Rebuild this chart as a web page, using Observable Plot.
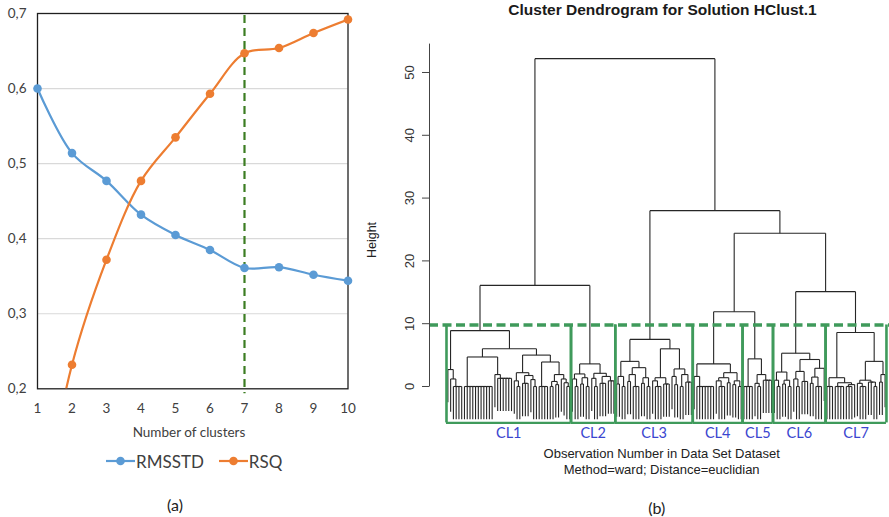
<!DOCTYPE html>
<html><head><meta charset="utf-8">
<script src="https://cdn.jsdelivr.net/npm/d3@7"></script>
<script src="https://cdn.jsdelivr.net/npm/@observablehq/plot@0.6"></script>
<style>
body{margin:0;background:#fff;}
#page{position:relative;width:889px;height:517px;overflow:hidden;background:#fff;}
.t{position:absolute;white-space:nowrap;transform:translate(-50%,-50%);line-height:1;}
</style></head><body><div id="page"></div>
<script>
// ---------- Panel (a) data ----------
const clusters = [1, 2, 3, 4, 5, 6, 7, 8, 9, 10];
const rmsstd   = [0.600, 0.514, 0.477, 0.432, 0.405, 0.385, 0.361, 0.362, 0.352, 0.344];
const rsq      = [0.000, 0.232, 0.372, 0.477, 0.535, 0.593, 0.647, 0.654, 0.674, 0.692];
const seriesNames = ["RMSSTD", "RSQ"];
const seriesColors = ["#5b9bd5", "#ed7d31"];
const yTicksA = [0.2, 0.3, 0.4, 0.5, 0.6, 0.7];
const gridA = [0.3, 0.4, 0.5, 0.6];
const chosenK = 7;

// ---------- Panel (b) data: dendrogram merge heights ([height, ...children], leaf = 0) ----------
const cl1 = [8.9,
  [2.7, 0, [1.2, 0, [0, 0, 0, 0, 0]]],
  [6.0,
    [4.7, [0, 0, 0, 0, 0, 0, 0, 0, 0, 0, 0, 0], [1.9, 0, [1.3, 0, 0, 0, 0, 0, 0]]],
    [5.0,
      [2.2, [0.9, 0, [0, 0, 0]], [1.75, [0.5, 0, 0, 0], [1.1, 0, [0, 0, 0]]]],
      [3.9, [0, 0, 0, 0, 0], [1.9, [0.8, [0, 0, 0], [0.3, 0, 0]], [1.2, 0, [0.6, 0, [0, 0, 0]]]]]]]];
const cl2 = [3.6,
  [2.0, [1.2, 0, [0, 0, 0]], [1.4, [0.4, 0, 0], [0, 0, 0]]],
  [2.1, [1.3, 0, [0, 0, 0]], [1.6, [0.5, 0, 0, 0], [0.9, 0, 0, 0]]]];
const cl3 = [7.5,
  [4.0, [1.6, [0.4, 0, 0], [0, 0, 0]], [3.0, [1.9, [0.8, 0, 0], [0, 0, 0, 0]], [1.4, [0.5, 0, 0], [0, 0, 0]]]],
  [6.0, [1.4, [0.9, 0, [0, 0, 0, 0]], [0.4, 0, 0, 0]], [2.8, [1.6, 0, [0.3, 0, 0]], [1.9, [0, 0, 0], [0.7, 0, 0, 0]]]]];
const cl4 = [3.6,
  [1.6, 0, [0, 0, 0, 0, 0, 0, 0, 0]],
  [2.2, [1.4, [0.9, 0, [0, 0, 0, 0]], [0.6, 0, 0]], [0.9, [0.3, 0, 0], [0, 0, 0]]]];
const cl5 = [4.4,
  [0, [0, 0, 0], [0, 0, 0]],
  [1.9, [0.5, 0, [0, 0, 0]], [1.0, 0, 0, 0, 0]]];
const cl6 = [5.3,
  [2.3, [1.0, 0, [0, 0, 0]], [1.0, [0.4, 0, 0], [0, 0, 0]]],
  [4.3, [2.4, [1.2, 0, [0, 0, 0]], [0.8, 0, 0, 0]], [2.9, [1.5, [0.5, 0, 0], [0, 0, 0, 0]], 0]]];
const cl7 = [8.6,
  [1.4, [0, 0, 0, 0], [0.6, [0, 0, 0, 0, 0], [0.3, [0, 0, 0, 0], 0]]],
  [4.0, [1.0, [0.5, 0, [0, 0, 0, 0]], [0.7, 0, 0, [0, 0, 0]]], [1.9, [0.7, 0, 0], 0]]];
const clusterNames = ["CL1", "CL2", "CL3", "CL4", "CL5", "CL6", "CL7"];
const clusterTrees = [cl1, cl2, cl3, cl4, cl5, cl6, cl7];
const topTree = [52.2, [16.1, "CL1", "CL2"], [28.0, "CL3", [24.4, [11.9, "CL4", "CL5"], [15.1, "CL6", "CL7"]]]];
const heightTicks = [0, 10, 20, 30, 40, 50];
const cutHeight = 9.8;
const boxBottom = -5.8;
const axisTop = 54.6;

// ---------- Dendrogram layout (R hclust style: node x = midpoint of children, leaves hang) ----------
const hang = 0.1 * topTree[0];
function fold(node) {
  if (!Array.isArray(node)) return node;
  const [h, ...kids] = node;
  const k = kids.map(fold);
  while (k.length > 2) { const b = k.pop(), a = k.pop(); k.push([h, a, b]); }
  return [h, ...k];
}
let leafIndex = 0;
const segs = [], boxes = [];
function layout(node) {
  if (typeof node === "string") {
    const start = leafIndex + 1;
    const r = layout(fold(clusterTrees[clusterNames.indexOf(node)]));
    boxes.push({name: node, x1: start - 0.5, x2: leafIndex + 0.5});
    return r;
  }
  if (!Array.isArray(node)) { leafIndex++; return {x: leafIndex, h: 0, leaf: true}; }
  const [h, a, b] = node;
  const L = layout(a), R = layout(b);
  for (const c of [L, R]) segs.push({x1: c.x, x2: c.x, y1: h, y2: c.leaf ? h - hang : c.h});
  segs.push({x1: L.x, x2: R.x, y1: h, y2: h});
  return {x: (L.x + R.x) / 2, h};
}
layout(topTree);
const boxEdges = boxes.flatMap(b => [{x: b.x1}, {x: b.x2}]);

const page = document.getElementById("page");
function addText(txt, x, y, css) {
  const d = document.createElement("div");
  d.className = "t"; d.textContent = txt;
  d.style.left = x + "px"; d.style.top = y + "px";
  Object.assign(d.style, css);
  page.appendChild(d);
  return d;
}

// ---------- Panel (a) ----------
const rows = clusters.flatMap((k, i) => [
  {k, v: rmsstd[i], s: seriesNames[0]},
  {k, v: rsq[i], s: seriesNames[1]}
]);
const plotA = Plot.plot({
  width: 360, height: 420,
  marginLeft: 37, marginRight: 12.5, marginTop: 13, marginBottom: 31.7,
  x: {domain: [1, 10]},
  y: {domain: [0.2, 0.7]},
  color: {domain: seriesNames, range: seriesColors},
  style: {fontFamily: "Lato, sans-serif", fontSize: "13.5px", color: "#404040", background: "transparent"},
  marks: [
    Plot.gridY(gridA, {stroke: "#d9d9d9", strokeOpacity: 1, strokeWidth: 1.2}),
    Plot.frame({stroke: "#1f1f1f", strokeWidth: 1.3}),
    Plot.axisX(clusters, {tickSize: 0, tickPadding: 15, label: null}),
    Plot.axisY(yTicksA, {tickSize: 0, tickPadding: 11, label: null, tickFormat: d => d.toFixed(1).replace(".", ",")}),
    Plot.ruleX([chosenK], {stroke: "#3c7d22", strokeWidth: 2.2, strokeDasharray: "8,5", insetTop: 2, insetBottom: -5}),
    Plot.line(rows, {x: "k", y: "v", z: "s", stroke: "s", strokeWidth: 2.2, curve: "catmull-rom", clip: true}),
    Plot.dot(rows.filter(d => d.v >= 0.2), {x: "k", y: "v", fill: "s", r: 4.3})
  ]
});
plotA.style.position = "absolute"; plotA.style.left = "0px"; plotA.style.top = "0px";
page.appendChild(plotA);

addText("Number of clusters", 189, 432, {font: "13.5px Lato, sans-serif", color: "#404040"});
// legend
const leg = document.createElement("div");
Object.assign(leg.style, {position: "absolute", left: "106px", top: "451px", display: "flex", alignItems: "center",
  font: "17px Lato, sans-serif", color: "#404040", height: "20px"});
seriesNames.forEach((name, i) => {
  const sw = document.createElementNS("http://www.w3.org/2000/svg", "svg");
  sw.setAttribute("width", "29"); sw.setAttribute("height", "12");
  sw.innerHTML = `<line x1="0" y1="6" x2="29" y2="6" stroke="${seriesColors[i]}" stroke-width="2.2"/><circle cx="14.5" cy="6" r="4.3" fill="${seriesColors[i]}"/>`;
  const sp = document.createElement("span");
  sp.textContent = name;
  sp.style.marginLeft = "1px";
  sp.style.marginRight = i === 0 ? "15px" : "0";
  leg.appendChild(sw); leg.appendChild(sp);
});
page.appendChild(leg);
addText("(a)", 175, 504, {font: "16px Lato, sans-serif", color: "#222"});

// ---------- Panel (b) ----------
const green = "#3f9a5b";
const plotB = Plot.plot({
  width: 529, height: 517,
  marginLeft: 69, marginRight: 0, marginTop: 43.1, marginBottom: 80.76,
  x: {domain: [-5.64, 160.6], axis: null},
  y: {domain: [-8, axisTop]},
  style: {fontFamily: "Liberation Sans, Arial, sans-serif", fontSize: "13px", color: "#333", background: "transparent"},
  marks: [
    Plot.link(segs, {x1: "x1", x2: "x2", y1: "y1", y2: "y2", stroke: "#262626", strokeWidth: 1.1}),
    Plot.ruleX(boxEdges, {x: "x", y1: () => boxBottom, y2: () => cutHeight, stroke: green, strokeWidth: 2.6}),
    Plot.ruleY(boxes, {y: () => boxBottom, x1: "x1", x2: "x2", stroke: green, strokeWidth: 2.2}),
    Plot.ruleY([cutHeight], {stroke: green, strokeWidth: 3.5, strokeDasharray: "9,4.5"}),
    Plot.link([{y1: 0, y2: axisTop}], {x1: () => -5.64, x2: () => -5.64, y1: "y1", y2: "y2", stroke: "#444", strokeWidth: 1}),
    Plot.axisY(heightTicks, {tickSize: 7, tickPadding: 9, tickRotate: -90, label: null, stroke: "#444"}),
    Plot.text(boxes, {x: d => (d.x1 + d.x2) / 2, y: () => boxBottom, dy: 10.5, text: "name", lineAnchor: "middle",
      fill: "#3a45cf", fontSize: 14.5, fontFamily: "Lato, sans-serif"})
  ]
});
plotB.style.position = "absolute"; plotB.style.left = "360px"; plotB.style.top = "0px";
page.appendChild(plotB);

addText("Cluster Dendrogram for Solution HClust.1", 662.5, 10, {font: "bold 15.5px 'Liberation Sans', Arial, sans-serif", color: "#1a1a1a"});
const hl = addText("Height", 372, 240, {font: "12.5px 'Liberation Sans', Arial, sans-serif", color: "#222"});
hl.style.transform = "translate(-50%,-50%) rotate(-90deg)";
addText("Observation Number in Data Set Dataset", 661.7, 452.7, {font: "13px 'Liberation Sans', Arial, sans-serif", color: "#222"});
addText("Method=ward; Distance=euclidian", 661.7, 469, {font: "13px 'Liberation Sans', Arial, sans-serif", color: "#222"});
addText("(b)", 656.7, 506.5, {font: "16px Lato, sans-serif", color: "#222"});
</script></body></html>
